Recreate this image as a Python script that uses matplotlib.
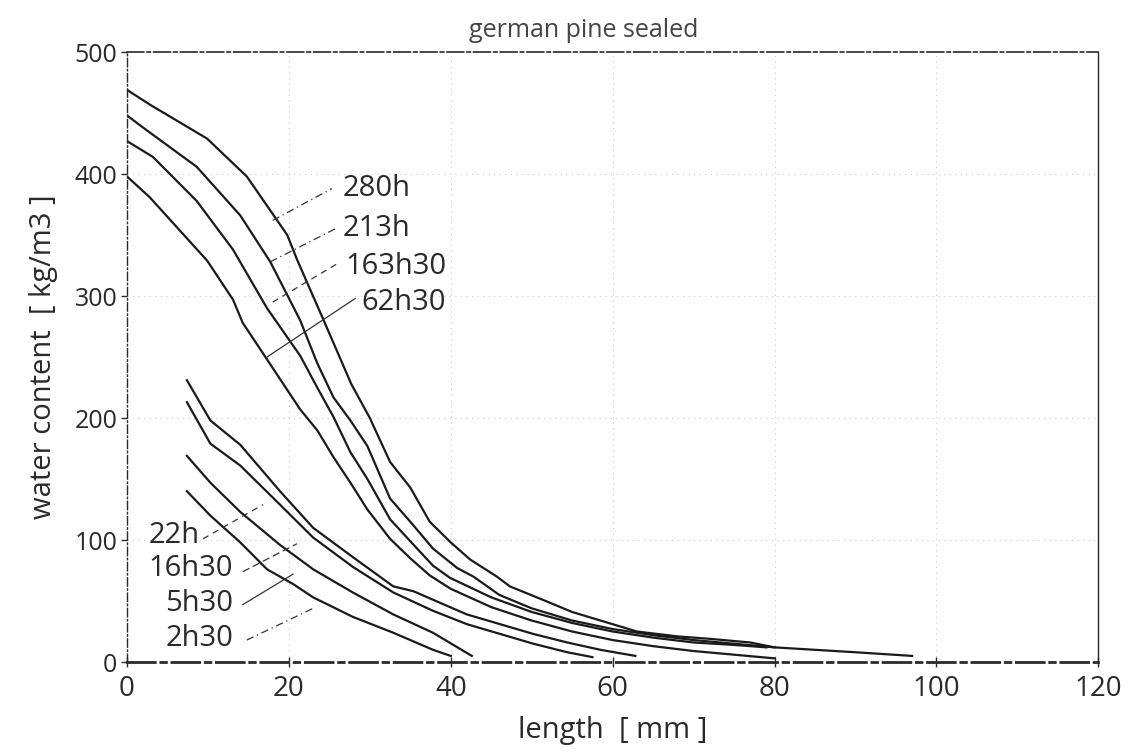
"""
Water content profiles, german pine sealed (scanned chart redraw).
"""
import matplotlib
matplotlib.use("Agg")
import matplotlib.pyplot as plt

plt.rcParams["font.family"] = ["Open Sans", "DejaVu Sans"]

# profiles: length [mm] -> water content [kg/m3]
x_280h = [0, 2.8, 9.9, 14.8, 19.8, 21, 24.5, 27.7, 30, 32.5, 35, 37.4, 40, 42.4,
          45.7, 47.3, 51, 55, 60, 63, 68, 72, 77, 80, 85, 90, 97]
y_280h = [469, 457, 429, 398, 350, 330, 277, 228, 200, 164, 143, 115, 98, 84,
          70, 62, 52, 41, 31, 25, 21, 19, 16, 12, 10, 8, 5]

x_213h = [0, 2, 8.6, 14, 17.7, 21.4, 23.5, 25.5, 27.6, 29.7, 32.5, 35, 37.8,
          40.8, 42.8, 46, 50, 55, 60, 65, 70, 75, 80]
y_213h = [448, 438, 406, 366, 328, 280, 245, 217, 198, 177, 134, 115, 93,
          77, 70, 55, 44, 34, 27, 22, 18, 15, 12]

x_163h30 = [0, 3.2, 8.6, 13.1, 17.3, 21.4, 23.5, 25.5, 27.6, 29.7, 32.5, 35,
            37.8, 39.9, 45, 50, 55, 60, 65, 70, 75, 79]
y_163h30 = [427, 414, 378, 338, 290, 251, 225, 201, 172, 150, 117, 99,
            79, 69, 53, 41, 32, 25, 20, 16, 14, 12]

x_62h30 = [0, 2.8, 9.9, 13.1, 14.3, 17.3, 21.4, 23.5, 25.5, 27.6, 29.7, 32.5,
           35, 37.4, 40, 45, 50, 55, 60, 65, 70, 75, 80]
y_62h30 = [398, 381, 329, 297, 278, 248, 207, 190, 168, 147, 125, 101,
           85, 71, 60, 45, 34, 25, 18, 13, 9, 6, 3]

x_22h = [7.4, 10.3, 14, 18.9, 23, 27.9, 32.9, 35.4, 39.9, 42, 46.1, 50.2,
         54.4, 58.5, 62.8]
y_22h = [231, 198, 178, 140, 110, 86, 62, 58, 45, 39, 31, 23, 16, 10, 5]

x_16h30 = [7.4, 10.3, 14, 18.9, 23, 27.9, 32.9, 37.8, 42, 46.1, 50.2, 54.4, 57.5]
y_16h30 = [213, 179, 161, 129, 102, 78, 57, 42, 31, 23, 15, 8, 4]

x_5h30 = [7.4, 10.3, 14, 18.9, 23, 27.9, 32.9, 37.8, 42.6]
y_5h30 = [169, 147, 123, 96, 76, 57, 39, 24, 5]

x_2h30 = [7.4, 10.3, 14, 17.3, 20.5, 23, 27.9, 32.9, 37.8, 40]
y_2h30 = [140, 120, 98, 76, 64, 53, 37, 24, 10, 5]

profiles = [
    (x_280h, y_280h), (x_213h, y_213h), (x_163h30, y_163h30), (x_62h30, y_62h30),
    (x_22h, y_22h), (x_16h30, y_16h30), (x_5h30, y_5h30), (x_2h30, y_2h30),
]

# curve labels: text, text anchor, leader start, leader end
upper_labels = ["280h", "213h", "163h30", "62h30"]
upper_text_xy = [(26.6, 388), (26.6, 355), (27.0, 324), (29.0, 295)]
upper_lead_from = [(18.0, 362), (17.7, 328), (18.0, 295), (17.3, 250)]
upper_lead_to = [(25.3, 388), (25.7, 355), (26.1, 327), (28.2, 298)]

lower_labels = ["22h", "16h30", "5h30", "2h30"]
lower_text_xy = [(9.0, 104), (13.1, 77), (13.1, 48), (13.1, 19)]
lower_lead_from = [(9.4, 101), (14.3, 74), (14.3, 47), (14.8, 18)]
lower_lead_to = [(16.8, 129), (21.0, 97), (20.5, 72), (23.0, 44)]

x_ticks = [0, 20, 40, 60, 80, 100, 120]
y_ticks = [0, 100, 200, 300, 400, 500]

ink = "#2a2a2a"

fig = plt.figure(figsize=(11.32, 7.54), dpi=100)
ax = fig.add_axes([0.1122, 0.122, 0.858, 0.809])

for xs, ys in profiles:
    ax.plot(xs, ys, color="#1a1a1a", lw=1.6, solid_joinstyle="round")

lead_styles = [(0, (6, 3, 1, 3)), (0, (6, 3, 1, 3)), (0, (5, 4)), "-"]
for txt, pos, p0, p1, ls in zip(upper_labels, upper_text_xy, upper_lead_from,
                                upper_lead_to, lead_styles):
    ax.plot([p0[0], p1[0]], [p0[1], p1[1]], color="#333333", lw=0.9, ls=ls)
    ax.text(pos[0], pos[1], txt, fontsize=21, color=ink,
            ha="left", va="center")

lead_styles = [(0, (5, 4)), (0, (6, 3)), "-", (0, (6, 3, 1, 3))]
for txt, pos, p0, p1, ls in zip(lower_labels, lower_text_xy, lower_lead_from,
                                lower_lead_to, lead_styles):
    ax.plot([p0[0], p1[0]], [p0[1], p1[1]], color="#333333", lw=0.9, ls=ls)
    ax.text(pos[0], pos[1], txt, fontsize=21, color=ink,
            ha="right", va="center")

ax.set_xlim(0, 120)
ax.set_ylim(0, 500)
ax.set_xticks(x_ticks)
ax.set_yticks(y_ticks)
ax.tick_params(axis="x", direction="inout", length=7, width=1, pad=6,
               labelsize=20, colors=ink)
ax.tick_params(axis="y", direction="out", length=4, width=1, pad=3,
               labelsize=18, colors=ink)

ax.grid(True, color="#a8a8a8", lw=0.8, ls=(0, (1, 4)), alpha=0.6)

ax.spines["top"].set_linestyle((0, (10, 2, 2, 2)))
ax.spines["top"].set_linewidth(1.2)
ax.spines["bottom"].set_linestyle((0, (10, 2, 2, 2)))
ax.spines["bottom"].set_linewidth(2.0)
ax.spines["left"].set_linestyle((0, (6, 2, 1, 2)))
ax.spines["left"].set_linewidth(1.0)
ax.spines["right"].set_linewidth(1.0)
for s in ax.spines.values():
    s.set_color(ink)

ax.set_xlabel("length  [ mm ]", fontsize=21, color=ink, labelpad=9)
ax.set_ylabel("water content  [ kg/m3 ]", fontsize=21, color=ink,
              labelpad=12)
fig.text(0.516, 0.96, "german pine sealed", fontsize=18, color="#444444",
         ha="center", va="center")

fig.savefig("out.png", dpi=100)
